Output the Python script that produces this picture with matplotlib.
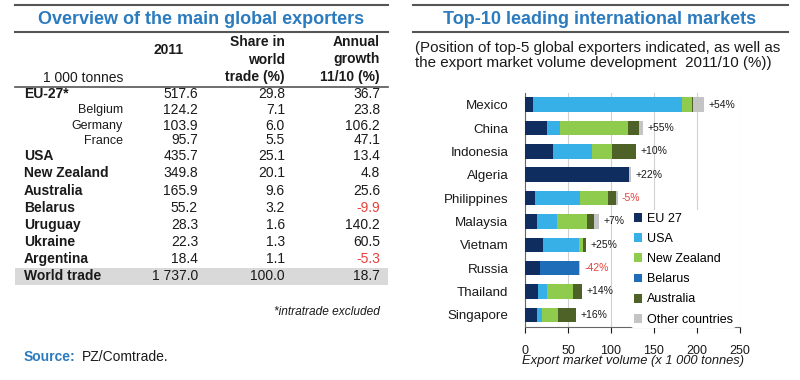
import matplotlib
matplotlib.use('Agg')
import matplotlib.pyplot as plt
from matplotlib.lines import Line2D
from matplotlib.patches import Rectangle, Patch

plt.rcParams['font.family'] = ['Liberation Sans', 'DejaVu Sans']

# Left table data
exporters = ['EU-27*', 'Belgium', 'Germany', 'France', 'USA', 'New Zealand', 'Australia',
             'Belarus', 'Uruguay', 'Ukraine', 'Argentina']
is_member = [False, True, True, True, False, False, False, False, False, False, False]
volume_2011 = ['517.6', '124.2', '103.9', '95.7', '435.7', '349.8', '165.9', '55.2', '28.3', '22.3', '18.4']
world_share = ['29.8', '7.1', '6.0', '5.5', '25.1', '20.1', '9.6', '3.2', '1.6', '1.3', '1.1']
annual_growth = [36.7, 23.8, 106.2, 47.1, 13.4, 4.8, 25.6, -9.9, 140.2, 60.5, -5.3]
world_total = ['1 737.0', '100.0', '18.7']

# Right chart data (1 000 tonnes)
markets = ['Mexico', 'China', 'Indonesia', 'Algeria', 'Philippines', 'Malaysia',
           'Vietnam', 'Russia', 'Thailand', 'Singapore']
eu27 = [9, 25.6, 32.6, 121, 11.6, 14.3, 21.3, 17.4, 15.5, 14]
usa = [174, 15, 45, 0, 52, 23, 41.5, 0, 10.5, 6]
new_zealand = [11, 79, 23, 0, 33, 34.5, 5, 0, 29.4, 18.6]
belarus = [0, 0, 0, 0, 0, 0, 0, 45.4, 0, 0]
australia = [1.5, 13, 28, 0, 9, 8, 3, 0, 10.5, 20.5]
other = [13, 4.6, 1, 2.5, 2, 6.5, 0.5, 1.5, 0.7, 0.5]
market_growth = [54, 55, 10, 22, -5, 7, 25, -42, 14, 16]

BLUE = '#2b7bbf'
TXT = '#1a1a1a'
RED = '#e8413c'
RULE = '#555555'
FS = 10

fig = plt.figure(figsize=(8, 3.8), dpi=100)


def fx(x):
    return x / 800


def fy(y):
    return 1 - y / 380


def hline(x0, x1, y, lw=1.5):
    fig.add_artist(Line2D([fx(x0), fx(x1)], [fy(y), fy(y)], color=RULE, lw=lw,
                          transform=fig.transFigure))


# ---- left panel: table ----
hline(15, 388, 5)
hline(15, 388, 32)
fig.text(fx(201), fy(20), 'Overview of the main global exporters', ha='center', va='center',
         fontsize=13, fontweight='bold', color=BLUE)

fig.text(fx(184), fy(50), '2011', ha='right', va='center', fontsize=FS, fontweight='bold', color=TXT)
for txt, y in zip(['Share in', 'world', 'trade (%)'], [42, 59.5, 77.5]):
    fig.text(fx(285), fy(y), txt, ha='right', va='center', fontsize=FS, fontweight='bold', color=TXT)
for txt, y in zip(['Annual', 'growth', '11/10 (%)'], [42, 59.5, 77.5]):
    fig.text(fx(380), fy(y), txt, ha='right', va='center', fontsize=FS, fontweight='bold', color=TXT)
fig.text(fx(123), fy(78), '1 000 tonnes', ha='right', va='center', fontsize=FS, color=TXT)
hline(15, 388, 87, lw=1.2)

row_y = [94.5, 110, 125.5, 140.5, 156.5, 173.5, 190.7, 207.8, 225, 242.2, 259.3]
for i, name in enumerate(exporters):
    y = row_y[i]
    if is_member[i]:
        fig.text(fx(123), fy(y), name, ha='right', va='center', fontsize=9, color=TXT)
    else:
        fig.text(fx(24), fy(y), name, ha='left', va='center', fontsize=FS, fontweight='bold', color=TXT)
    fig.text(fx(198), fy(y), volume_2011[i], ha='right', va='center', fontsize=FS, color=TXT)
    fig.text(fx(285), fy(y), world_share[i], ha='right', va='center', fontsize=FS, color=TXT)
    g = annual_growth[i]
    fig.text(fx(380), fy(y), f'{g:.1f}', ha='right', va='center', fontsize=FS,
             color=RED if g < 0 else TXT)

fig.add_artist(Rectangle((fx(15), fy(285)), fx(373), 17 / 380, facecolor='#d9d9d9',
                         edgecolor='none', transform=fig.transFigure, zorder=0))
fig.text(fx(24), fy(276.5), 'World trade', ha='left', va='center', fontsize=FS, fontweight='bold', color=TXT)
for txt, x in zip(world_total, [198, 285, 380]):
    fig.text(fx(x), fy(276.5), txt, ha='right', va='center', fontsize=FS, color=TXT)

fig.text(fx(380), fy(312), '*intratrade excluded', ha='right', va='center', fontsize=8.6,
         style='italic', color=TXT)
fig.text(fx(24), fy(357), 'Source:', ha='left', va='center', fontsize=FS, fontweight='bold', color=BLUE)
fig.text(fx(82), fy(357), 'PZ/Comtrade.', ha='left', va='center', fontsize=FS, color=TXT)

# ---- right panel: stacked bars ----
hline(413, 788, 5)
hline(413, 788, 32)
fig.text(fx(600), fy(20), 'Top-10 leading international markets', ha='center', va='center',
         fontsize=13, fontweight='bold', color=BLUE)
fig.text(fx(415), fy(48), '(Position of top-5 global exporters indicated, as well as',
         ha='left', va='center', fontsize=10.9, color=TXT)
fig.text(fx(415), fy(63.5), 'the export market volume development  2011/10 (%))',
         ha='left', va='center', fontsize=10.9, color=TXT)

ax = fig.add_axes([fx(525), fy(326.5), (740 - 525) / 800, (326.5 - 93) / 380])
series = [('EU 27', eu27, '#0f2d5f'),
          ('USA', usa, '#36b0e6'),
          ('New Zealand', new_zealand, '#8fcb4c'),
          ('Belarus', belarus, '#1f6db8'),
          ('Australia', australia, '#4e6126'),
          ('Other countries', other, '#c4c4c4')]
pos = list(range(len(markets)))
left = [0] * len(markets)
for label, vals, col in series:
    ax.barh(pos, vals, left=left, height=0.62, color=col, label=label, zorder=3)
    left = [a + b for a, b in zip(left, vals)]

for i, g in enumerate(market_growth):
    lab = f'+{g}%' if g > 0 else f'{g}%'
    ax.text(left[i] + 5, pos[i], lab, ha='left', va='center', fontsize=7.5,
            color=RED if g < 0 else TXT, zorder=4)

ax.set_xlim(0, 250)
ax.set_ylim(len(markets) - 0.5, -0.5)
ax.set_yticks(pos)
ax.set_yticklabels(markets, fontsize=9.6, color=TXT)
ax.set_xticks([0, 50, 100, 150, 200, 250])
ax.tick_params(axis='x', labelsize=9, colors=TXT, length=4, direction='out', pad=9)
ax.tick_params(axis='y', length=0, pad=12)
ax.set_xlabel('Export market volume (x 1 000 tonnes)', fontsize=9.3, style='italic', color=TXT, labelpad=-1)
ax.grid(axis='x', color='#d0d0d0', lw=0.8, zorder=0)
for s in ['top', 'right']:
    ax.spines[s].set_visible(False)
ax.spines['left'].set_color('#666666')
ax.spines['bottom'].set_color('#666666')

handles = [Patch(facecolor=c, edgecolor='none', label=l) for l, _, c in series]
fig.legend(handles=handles, loc='upper left', bbox_to_anchor=(fx(631), fy(210)),
           frameon=True, facecolor='white', edgecolor='none', framealpha=1,
           fontsize=9, handlelength=0.7, handleheight=0.7, handletextpad=0.4,
           labelspacing=0.66, borderpad=0.2, borderaxespad=0)

fig.savefig('out.png', dpi=100)
